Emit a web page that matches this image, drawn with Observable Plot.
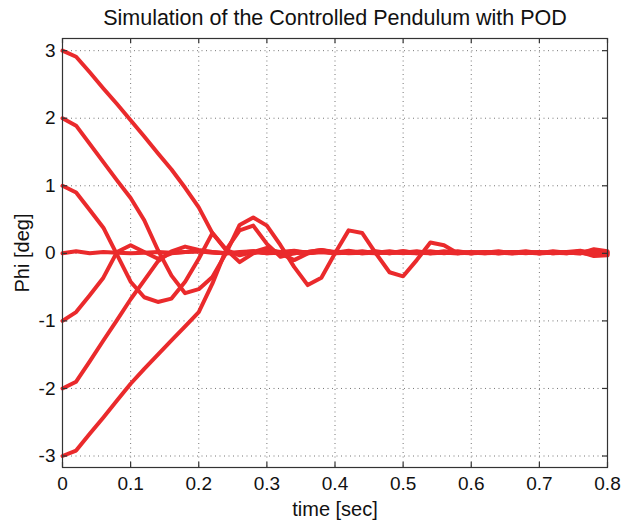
<!DOCTYPE html>
<html>
<head>
<meta charset="utf-8">
<script src="https://cdn.jsdelivr.net/npm/d3@7"></script>
<script src="https://cdn.jsdelivr.net/npm/@observablehq/plot@0.6"></script>
<style>
  html, body { margin: 0; padding: 0; background: #fff; }
  #chart svg { display: block; }
</style>
</head>
<body>
<div id="chart"></div>
<script>
const title = "Simulation of the Controlled Pendulum with POD";
const xLabel = "time [sec]";
const yLabel = "Phi [deg]";

const xTicks = [0, 0.1, 0.2, 0.3, 0.4, 0.5, 0.6, 0.7, 0.8];
const yTicks = [-3, -2, -1, 0, 1, 2, 3];

const time = [0, 0.02, 0.04, 0.06, 0.08, 0.10, 0.12, 0.14, 0.16, 0.18,
  0.20, 0.22, 0.24, 0.26, 0.28, 0.30, 0.32, 0.34, 0.36, 0.38,
  0.40, 0.42, 0.44, 0.46, 0.48, 0.50, 0.52, 0.54, 0.56, 0.58,
  0.60, 0.62, 0.64, 0.66, 0.68, 0.70, 0.72, 0.74, 0.76, 0.78, 0.80];

const phiP3 = [3.00, 2.91, 2.68, 2.44, 2.21, 1.97, 1.73, 1.48, 1.24, 0.97,
  0.68, 0.30, 0.05, -0.03, 0.02, 0.08, 0.00, -0.10, 0.00, 0.03,
  0.01, 0.04, 0.01, 0.02, 0.00, 0.03, 0.01, 0.03, 0.00, 0.02,
  0.00, 0.02, 0.01, 0.02, 0.00, 0.02, 0.00, 0.02, 0.04, -0.03, -0.02];

const phiP2 = [2.00, 1.89, 1.62, 1.35, 1.08, 0.82, 0.49, 0.05, -0.33, -0.59,
  -0.53, -0.35, 0.00, 0.42, 0.53, 0.41, 0.12, -0.20, -0.47, -0.36,
  0.00, 0.34, 0.30, 0.00, -0.28, -0.34, -0.10, 0.16, 0.12, 0.00,
  0.01, 0.00, 0.02, 0.00, 0.01, 0.00, 0.02, 0.01, 0.00, 0.05, 0.00];

const phiP1 = [1.00, 0.90, 0.64, 0.38, -0.02, -0.42, -0.65, -0.72, -0.67, -0.42,
  -0.08, 0.30, 0.06, -0.13, 0.00, 0.05, 0.02, 0.00, 0.02, 0.05,
  0.01, 0.02, 0.00, 0.01, 0.03, 0.00, 0.02, 0.00, 0.01, 0.00,
  0.02, 0.00, 0.01, 0.00, 0.02, 0.00, 0.01, 0.00, 0.02, -0.04, -0.03];

const phi0 = [0.00, 0.03, 0.00, 0.02, 0.01, 0.00, 0.01, 0.02, 0.01, 0.02,
  0.03, 0.02, 0.00, 0.01, 0.02, 0.00, 0.01, 0.03, 0.00, 0.02,
  0.01, 0.02, 0.00, 0.02, 0.01, 0.03, 0.00, 0.02, 0.01, 0.00,
  0.02, 0.01, 0.00, 0.02, 0.01, 0.00, 0.02, 0.00, 0.03, 0.02, 0.01];

const phiM1 = [-1.00, -0.87, -0.62, -0.36, 0.02, 0.12, 0.02, -0.08, 0.00, 0.02,
  0.03, 0.01, 0.00, 0.02, 0.03, 0.01, 0.00, 0.02, 0.01, 0.03,
  0.00, 0.02, 0.01, 0.00, 0.02, 0.01, 0.03, 0.00, 0.01, 0.02,
  0.00, 0.01, 0.03, 0.00, 0.01, 0.02, 0.00, 0.01, 0.00, 0.06, 0.03];

const phiM2 = [-2.00, -1.90, -1.60, -1.29, -0.99, -0.68, -0.40, -0.12, 0.03, 0.10,
  0.05, 0.02, 0.00, 0.01, 0.03, 0.00, 0.02, 0.04, 0.01, 0.02,
  0.00, 0.01, 0.03, 0.00, 0.02, 0.01, 0.00, 0.02, 0.01, 0.03,
  0.00, 0.02, 0.00, 0.01, 0.03, 0.00, 0.01, 0.02, 0.01, -0.02, 0.02];

const phiM3 = [-3.00, -2.92, -2.67, -2.43, -2.18, -1.93, -1.71, -1.50, -1.29, -1.08,
  -0.87, -0.45, 0.05, 0.34, 0.41, 0.14, -0.05, 0.00, 0.02, 0.05,
  0.02, 0.00, 0.01, 0.03, 0.00, 0.02, 0.01, 0.00, 0.03, 0.01,
  0.00, 0.02, 0.00, 0.01, 0.02, 0.00, 0.03, 0.01, 0.00, 0.03, -0.01];

const seriesNames = ["+3", "+2", "+1", "0", "-1", "-2", "-3"];
const seriesValues = [phiP3, phiP2, phiP1, phi0, phiM1, phiM2, phiM3];

const rows = seriesValues.flatMap((vals, k) =>
  vals.map((v, i) => ({t: time[i], phi: v, run: seriesNames[k]})));

const W = 623, H = 520;
const mL = 62, mR = 16, mT = 38, mB = 53;
const innerH = H - mT - mB;
const innerW = W - mL - mR;
const tick = 5;
const font = "'Liberation Sans', Arial, Helvetica, sans-serif";
const red = "#ea2a2c";

const chart = Plot.plot({
  width: W,
  height: H,
  marginLeft: mL,
  marginRight: mR,
  marginTop: mT,
  marginBottom: mB,
  style: {fontFamily: font, fontSize: "19px", color: "#111", background: "#fff"},
  x: {domain: [0, 0.8], ticks: xTicks},
  y: {domain: [-3.17, 3.18], ticks: yTicks},
  marks: [
    Plot.gridX(xTicks, {stroke: "#777", strokeOpacity: 1, strokeDasharray: "1,3.5", strokeWidth: 1}),
    Plot.gridY(yTicks, {stroke: "#777", strokeOpacity: 1, strokeDasharray: "1,3.5", strokeWidth: 1}),
    Plot.line(rows, {x: "t", y: "phi", z: "run", stroke: red, strokeWidth: 4, strokeLinejoin: "round", strokeLinecap: "round"}),
    Plot.frame({stroke: "#333", strokeWidth: 1.2}),
    // inward ticks on all four sides
    Plot.ruleX(xTicks, {x: d => d, insetTop: innerH - tick, stroke: "#333", strokeWidth: 1.2}),
    Plot.ruleX(xTicks, {x: d => d, insetBottom: innerH - tick, stroke: "#333", strokeWidth: 1.2}),
    Plot.ruleY(yTicks, {y: d => d, insetRight: innerW - tick, stroke: "#333", strokeWidth: 1.2}),
    Plot.ruleY(yTicks, {y: d => d, insetLeft: innerW - tick, stroke: "#333", strokeWidth: 1.2}),
    Plot.axisX(xTicks, {tickSize: 0, tickPadding: 9, label: null, fontSize: 19, tickFormat: d => String(d), fill: "#111"}),
    Plot.axisY(yTicks, {tickSize: 0, tickPadding: 7, label: null, fontSize: 19, tickFormat: d => String(d), fill: "#111"}),
    Plot.text([title], {frameAnchor: "top", dy: -20, lineAnchor: "middle", text: d => d, fontSize: 21.5, fill: "#111"}),
    Plot.text([xLabel], {frameAnchor: "bottom", dy: 42, lineAnchor: "middle", text: d => d, fontSize: 20, fill: "#111"}),
    Plot.text([yLabel], {frameAnchor: "left", dx: -40, rotate: -90, textAnchor: "middle", lineAnchor: "middle", text: d => d, fontSize: 20, fill: "#111"})
  ]
});
document.getElementById("chart").appendChild(chart);
</script>
</body>
</html>
